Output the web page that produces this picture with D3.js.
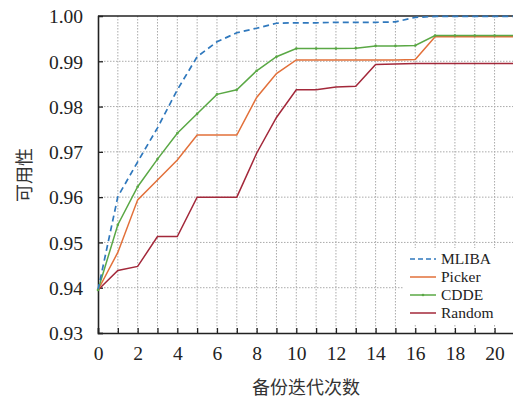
<!DOCTYPE html>
<html><head><meta charset="utf-8">
<script src="https://cdn.jsdelivr.net/npm/d3@7"></script>
<style>body{margin:0;background:#fff}svg{display:block}
.serif{font-family:"Liberation Serif","DejaVu Serif",serif}</style>
</head><body>
<script>
const iterations = d3.range(0, 22);
const mliba  = [0.9395,0.9601,0.9678,0.9753,0.9837,0.9910,0.9943,0.9963,0.9973,0.9984,0.9985,0.9985,0.9986,0.9986,0.9986,0.9987,0.9997,0.9999,0.9999,0.9999,0.9999,0.9999];
const picker = [0.9395,0.9478,0.9594,0.9638,0.9682,0.9737,0.9737,0.9737,0.9820,0.9873,0.9903,0.9903,0.9903,0.9903,0.9903,0.9903,0.9904,0.9954,0.9954,0.9954,0.9954,0.9954];
const cdde   = [0.9395,0.9539,0.9623,0.9684,0.9741,0.9784,0.9827,0.9837,0.9879,0.9910,0.9928,0.9928,0.9928,0.9929,0.9934,0.9934,0.9935,0.9957,0.9957,0.9957,0.9957,0.9957];
const random = [0.9395,0.9438,0.9447,0.9513,0.9513,0.9600,0.9600,0.9600,0.9697,0.9776,0.9837,0.9837,0.9843,0.9845,0.9893,0.9894,0.9895,0.9895,0.9895,0.9895,0.9895,0.9895];
const seriesNames = ["MLIBA","Picker","CDDE","Random"];
const xTicks = [0,2,4,6,8,10,12,14,16,18,20];
const yTicks = [0.93,0.94,0.95,0.96,0.97,0.98,0.99,1.00];

const W=513,H=401;
const svg=d3.select("body").append("svg").attr("width",W).attr("height",H);
const x=d3.scaleLinear().domain([0,21]).range([98,514.4]);
const y=d3.scaleLinear().domain([0.93,1.00]).range([333,16]);

// grid
svg.append("g").selectAll("line").data(d3.range(1,22)).join("line")
  .attr("x1",d=>x(d)).attr("x2",d=>x(d)).attr("y1",y(1)).attr("y2",y(0.93))
  .attr("stroke","#aaa").attr("stroke-width",1).attr("stroke-dasharray","1.5,1.5");
svg.append("g").selectAll("line").data(yTicks.slice(1,-1)).join("line")
  .attr("x1",x(0)).attr("x2",W).attr("y1",d=>y(d)).attr("y2",d=>y(d))
  .attr("stroke","#aaa").attr("stroke-width",1).attr("stroke-dasharray","1.5,1.5");

// axes
const xa=svg.append("g").attr("transform",`translate(0,${y(0.93)})`)
  .call(d3.axisBottom(x).tickValues(d3.range(0,22)).tickSize(-5).tickFormat(d=>xTicks.includes(d)?d:""));
const ya=svg.append("g").attr("transform",`translate(${x(0)},0)`)
  .call(d3.axisLeft(y).tickValues(yTicks).tickSize(-5).tickFormat(d3.format(".2f")));
[xa,ya].forEach(a=>{a.attr("font-family",null).attr("font-size",null);
  a.select(".domain").attr("stroke","#222").attr("stroke-width",1.6);
  a.selectAll(".tick line").attr("stroke","#222").attr("stroke-width",1.3);
  a.selectAll("text").attr("class","serif").style("font-size","19.5px").attr("fill","#222");});
xa.selectAll("text").attr("dy","1.25em");
ya.selectAll("text").attr("dx","-12").attr("dy","0.35em");
ya.selectAll(".tick").filter(d=>d===1.00).select("line").remove();
// top frame
svg.append("line").attr("x1",x(0)).attr("x2",W).attr("y1",y(1)).attr("y2",y(1)).attr("stroke","#222").attr("stroke-width",1.6);

const colors={MLIBA:"#2f78bd",Picker:"#e2703a",CDDE:"#5aa845",Random:"#a3283a"};
const dataMap={MLIBA:mliba,Picker:picker,CDDE:cdde,Random:random};
const line=d3.line().x((d,i)=>x(iterations[i])).y(d=>y(d));
["Random","Picker","CDDE","MLIBA"].forEach(n=>{
  svg.append("path").datum(dataMap[n]).attr("d",line).attr("fill","none")
    .attr("stroke",colors[n]).attr("stroke-width",n==="MLIBA"?1.7:1.5)
    .attr("stroke-dasharray",n==="MLIBA"?"6,4":null);
});
svg.append("g").selectAll("circle").data(cdde).join("circle")
  .attr("cx",(d,i)=>x(iterations[i])).attr("cy",d=>y(d)).attr("r",1.3).attr("fill",colors.CDDE);

// legend
const lg=svg.append("g");
lg.append("rect").attr("x",404).attr("y",248).attr("width",110).attr("height",76).attr("fill","#fff");
seriesNames.forEach((n,i)=>{
  const yy=259+i*18;
  lg.append("line").attr("x1",410).attr("x2",436).attr("y1",yy).attr("y2",yy)
    .attr("stroke",colors[n]).attr("stroke-width",1.5).attr("stroke-dasharray",n==="MLIBA"?"5,3":null);
  if(n==="CDDE") lg.append("circle").attr("cx",423).attr("cy",yy).attr("r",1.3).attr("fill",colors[n]);
  lg.append("text").attr("class","serif").attr("x",441).attr("y",yy).attr("dy","0.33em")
    .style("font-size","15.5px").attr("fill","#222").text(n);
});

// axis titles
svg.append("text").attr("x",306).attr("y",394).attr("text-anchor","middle")
  .attr("font-family","'Noto Sans CJK SC',sans-serif").attr("font-size",18).attr("fill","#333").text("备份迭代次数");
svg.append("text").attr("transform","translate(31,175) rotate(-90)").attr("text-anchor","middle")
  .attr("font-family","'Noto Sans CJK SC',sans-serif").attr("font-size",18).attr("fill","#333").text("可用性");
</script>
</body></html>
